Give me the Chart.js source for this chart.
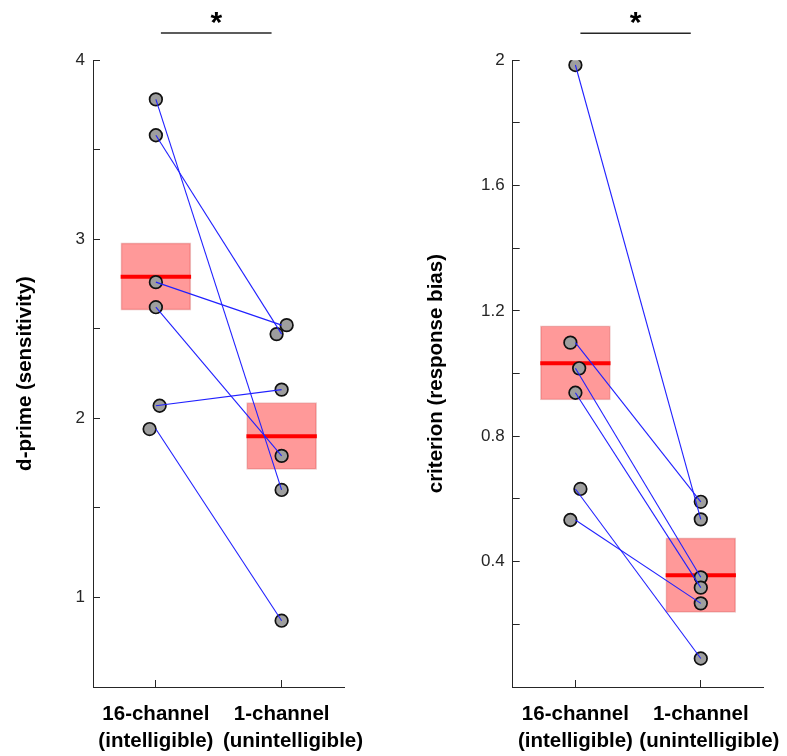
<!DOCTYPE html>
<html><head><meta charset="utf-8">
<script src="https://cdn.jsdelivr.net/npm/chart.js@4.4.1/dist/chart.umd.min.js"></script>
<style>
html,body{margin:0;padding:0;background:#fff;}
#wrap{position:relative;width:787px;height:756px;overflow:hidden;background:#fff;}
canvas{position:absolute;top:0;}
</style></head><body>
<div id="wrap">
<canvas id="c1" width="393" height="756" style="left:0px"></canvas>
<canvas id="c2" width="394" height="756" style="left:393px"></canvas>
</div>
<script>
// ---------- data ----------
const categories = [['16-channel', '(intelligible)'], ['1-channel', '(unintelligible)']];

// d-prime, paired per listener (16-channel -> 1-channel)
const dprime16 = [3.78, 3.58, 2.76, 2.62, 2.07, 1.94];
const dprime1  = [1.60, 2.47, 2.52, 1.79, 2.16, 0.87];
const dprime16X = [1.00, 1.00, 1.00, 1.00, 1.03, 0.95];
const dprime1X  = [2.00, 1.96, 2.04, 2.00, 2.00, 2.00];
const dprimeMean = [2.79, 1.90];
const dprimeBoxLow = [2.604, 1.715];
const dprimeBoxHigh = [2.979, 2.088];
const dprimeTickLabels = ['1', '2', '3', '4'];

// criterion, paired per listener
const crit16 = [1.985, 1.099, 1.017, 0.939, 0.632, 0.533];
const crit1  = [0.535, 0.591, 0.350, 0.317, 0.091, 0.267];
const crit16X = [1.00, 0.96, 1.03, 1.00, 1.04, 0.96];
const crit1X  = [2.00, 2.00, 2.00, 2.00, 2.00, 2.00];
const critMean = [1.033, 0.357];
const critBoxLow = [0.916, 0.238];
const critBoxHigh = [1.153, 0.476];
const critTickLabels = ['0.4', '0.8', '1.2', '1.6', '2'];

const sigSpan = [1.04, 1.92];
const sigLabel = '*';

// ---------- rendering ----------
Chart.defaults.font.family = "'Liberation Sans', Arial, sans-serif";
const BOX_HALF = 0.28;
const AXIS_COLOR = '#262626';

const sigPlugin = {
  id: 'sig',
  afterDraw(chart) {
    const x = chart.scales.x, ctx = chart.ctx;
    const x1 = x.getPixelForValue(sigSpan[0]), x2 = x.getPixelForValue(sigSpan[1]);
    const y = chart.chartArea.top - 27;
    ctx.save();
    ctx.strokeStyle = '#262626';
    ctx.lineWidth = 1.5;
    ctx.beginPath(); ctx.moveTo(x1, y); ctx.lineTo(x2, y); ctx.stroke();
    ctx.fillStyle = '#000';
    ctx.font = "bold 30px 'Liberation Sans', Arial, sans-serif";
    ctx.textAlign = 'center';
    ctx.textBaseline = 'alphabetic';
    ctx.fillText(sigLabel, (x1 + x2) / 2, y - 1);
    ctx.restore();
  }
};

function buildChart(id, c) {
  const datasets = [];
  datasets.push({
    type: 'bar',
    data: [{x: 1, y: [c.lo[0], c.hi[0]]}, {x: 2, y: [c.lo[1], c.hi[1]]}],
    backgroundColor: 'rgba(255,0,0,0.4)',
    borderColor: 'rgba(190,60,60,0.3)',
    borderWidth: 1, borderSkipped: false, barThickness: 70, order: 4
  });
  c.mean.forEach((m, i) => datasets.push({
    type: 'line',
    data: [{x: i + 1 - BOX_HALF, y: m}, {x: i + 1 + BOX_HALF, y: m}],
    borderColor: '#ff0000', borderWidth: 4, pointRadius: 0, fill: false, order: 3
  }));
  datasets.push({
    type: 'scatter',
    data: c.v16.map((y, i) => ({x: c.x16[i], y})).concat(c.v1.map((y, i) => ({x: c.x1[i], y}))),
    pointRadius: 6.3, pointBackgroundColor: '#9e9e9e', pointBorderColor: '#111',
    pointBorderWidth: 1.7, order: 2
  });
  c.v16.forEach((a, i) => datasets.push({
    type: 'line',
    data: [{x: 1, y: a}, {x: 2, y: c.v1[i]}],
    borderColor: '#2020ff', borderWidth: 1.1, pointRadius: 0, fill: false, order: 1
  }));

  const indent = ' '.repeat(c.indent);
  const xLabel = v => {
    const i = Math.round(v) - 1;
    const lines = categories[i].slice();
    if (i === 1) lines[1] = indent + lines[1];
    return lines;
  };

  return new Chart(document.getElementById(id), {
    type: 'scatter',
    data: {datasets},
    plugins: [sigPlugin],
    options: {
      responsive: false, animation: false, devicePixelRatio: 1,
      layout: {padding: {top: c.top, right: c.padRight, bottom: 0, left: 0}},
      plugins: {legend: {display: false}, tooltip: {enabled: false}},
      scales: {
        x: {
          type: 'linear', min: 0.5, max: 2.5, offset: false,
          afterBuildTicks: s => { s.ticks = [{value: 1}, {value: 2}]; },
          afterFit: s => { s.height = 69; s.paddingLeft = 0; s.paddingRight = 0; },
          grid: {drawOnChartArea: false, drawTicks: true, tickLength: -7, color: AXIS_COLOR, offset: false},
          border: {display: true, color: AXIS_COLOR, width: 1},
          ticks: {
            autoSkip: false, maxRotation: 0, minRotation: 0, padding: 21,
            color: '#000',
            font: {size: 20.5, weight: 'bold', lineHeight: 1.3},
            callback: xLabel
          }
        },
        y: {
          type: 'linear', min: c.min, max: c.max,
          afterFit: s => { s.width = c.yWidth; },
          grid: {drawOnChartArea: false, drawTicks: true, tickLength: -7, color: AXIS_COLOR},
          border: {display: true, color: AXIS_COLOR, width: 1},
          ticks: {
            stepSize: c.step, padding: 15, color: AXIS_COLOR,
            font: {size: 17},
            callback: v => { const s = String(Math.round(v * 10) / 10); return c.labels.includes(s) ? s : ''; }
          },
          title: {
            display: true, text: c.title, color: '#000',
            font: {size: 20.5, weight: 'bold', lineHeight: 1.2},
            padding: {top: c.titlePad, bottom: 0}
          }
        }
      }
    }
  });
}

buildChart('c1', {
  v16: dprime16, v1: dprime1, x16: dprime16X, x1: dprime1X,
  mean: dprimeMean, lo: dprimeBoxLow, hi: dprimeBoxHigh,
  min: 0.5, max: 4, step: 0.5, labels: dprimeTickLabels,
  title: 'd-prime (sensitivity)',
  top: 60, padRight: 48.5, yWidth: 93, titlePad: 13, indent: 4
});
buildChart('c2', {
  v16: crit16, v1: crit1, x16: crit16X, x1: crit1X,
  mean: critMean, lo: critBoxLow, hi: critBoxHigh,
  min: 0, max: 2, step: 0.2, labels: critTickLabels,
  title: 'criterion (response bias)',
  top: 60.3, padRight: 23.5, yWidth: 119.7, titlePad: 31, indent: 3
});
</script>
</body></html>
